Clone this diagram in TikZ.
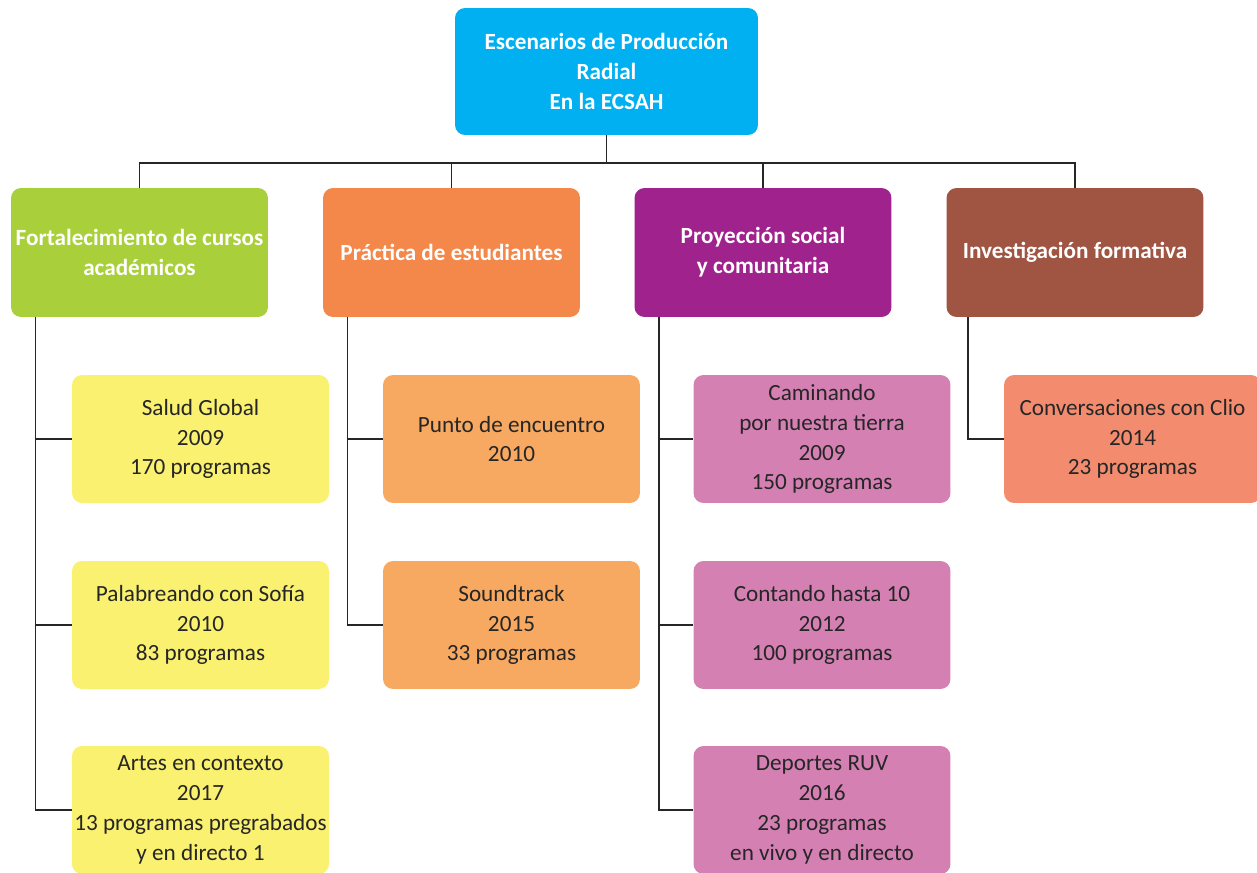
\documentclass[tikz,border=0pt]{standalone}
\usepackage{fontspec}
\setmainfont{Carlito}
\usepackage{tikz}

\definecolor{topblue}{HTML}{00B0F0}
\definecolor{boxgreen}{HTML}{A9D03A}
\definecolor{boxorange}{HTML}{F4874A}
\definecolor{boxpurple}{HTML}{A0228D}
\definecolor{boxbrown}{HTML}{A05442}
\definecolor{subyellow}{HTML}{F9F16F}
\definecolor{suborange}{HTML}{F7A962}
\definecolor{subpink}{HTML}{D580B3}
\definecolor{subsalmon}{HTML}{F38C6E}
\definecolor{subtext}{HTML}{262626}

\begin{document}
\begin{tikzpicture}[x=0.02cm,y=-0.02cm,
        headbox/.style={rounded corners=0.2cm,text=white,align=center,
          minimum width=5.14cm,minimum height=2.58cm,inner sep=0pt,
          font=\fontsize{13.2}{17}\selectfont\bfseries},
        subbox/.style={rounded corners=0.2cm,text=subtext,align=center,
          minimum width=5.14cm,minimum height=2.56cm,inner sep=0pt,
          font=\fontsize{13.2}{17}\selectfont},
        link/.style={draw=black!85,line width=0.8pt}]
        \useasboundingbox (0,0) rectangle (1257,872);
        \begin{scope}
        \clip (0,0) rectangle (1257,872);

        \node[headbox,fill=topblue,minimum width=6.06cm,minimum height=2.54cm]
        (top) at (606.5,71.5) {Escenarios de Producción\\Radial\\En la ECSAH};

        \node[headbox,fill=boxgreen] (cursos) at (139.5,252.5)
        {Fortalecimiento de cursos\\académicos};
        \node[headbox,fill=boxorange] (practica) at (451.5,252.5)
        {Práctica de estudiantes};
        \node[headbox,fill=boxpurple] (proyeccion) at (763,252.5)
        {Proyección social\\y comunitaria};
        \node[headbox,fill=boxbrown] (investigacion) at (1075,252.5)
        {Investigación formativa};

        \node[subbox,fill=subyellow] (salud) at (200.5,439)
        {Salud Global\\2009\\170 programas};
        \node[subbox,fill=subyellow] (sofia) at (200.5,625)
        {Palabreando con Sofía\\2010\\83 programas};
        \node[subbox,fill=subyellow] (artes) at (200.5,810)
        {Artes en contexto\\2017\\13 programas pregrabados\\y en directo 1};

        \node[subbox,fill=suborange] (encuentro) at (511.5,439)
        {Punto de encuentro\\2010};
        \node[subbox,fill=suborange] (soundtrack) at (511.5,625)
        {Soundtrack\\2015\\33 programas};

        \node[subbox,fill=subpink] (caminando) at (822,439)
        {Caminando\\por nuestra tierra\\2009\\150 programas};
        \node[subbox,fill=subpink] (contando) at (822,625)
        {Contando hasta 10\\2012\\100 programas};
        \node[subbox,fill=subpink] (deportes) at (822,810)
        {Deportes RUV\\2016\\23 programas\\en vivo y en directo};

        \node[subbox,fill=subsalmon] (clio) at (1132.5,439)
        {Conversaciones con Clio\\2014\\23 programas};

        \coordinate (bar) at (606.5,163);
        \draw[link] (top.south) -- (bar);
        \foreach \n in {cursos,practica,proyeccion,investigacion}
          \draw[link] (bar) -| (\n.north);

        \foreach \n in {salud,sofia,artes}
          \draw[link] ([xshift=0.5cm]cursos.south west) |- (\n.west);
        \foreach \n in {encuentro,soundtrack}
          \draw[link] ([xshift=0.5cm]practica.south west) |- (\n.west);
        \foreach \n in {caminando,contando,deportes}
          \draw[link] ([xshift=0.5cm]proyeccion.south west) |- (\n.west);
        \draw[link] ([xshift=0.44cm]investigacion.south west) |- (clio.west);
        \end{scope}
      \end{tikzpicture}
\end{document}
